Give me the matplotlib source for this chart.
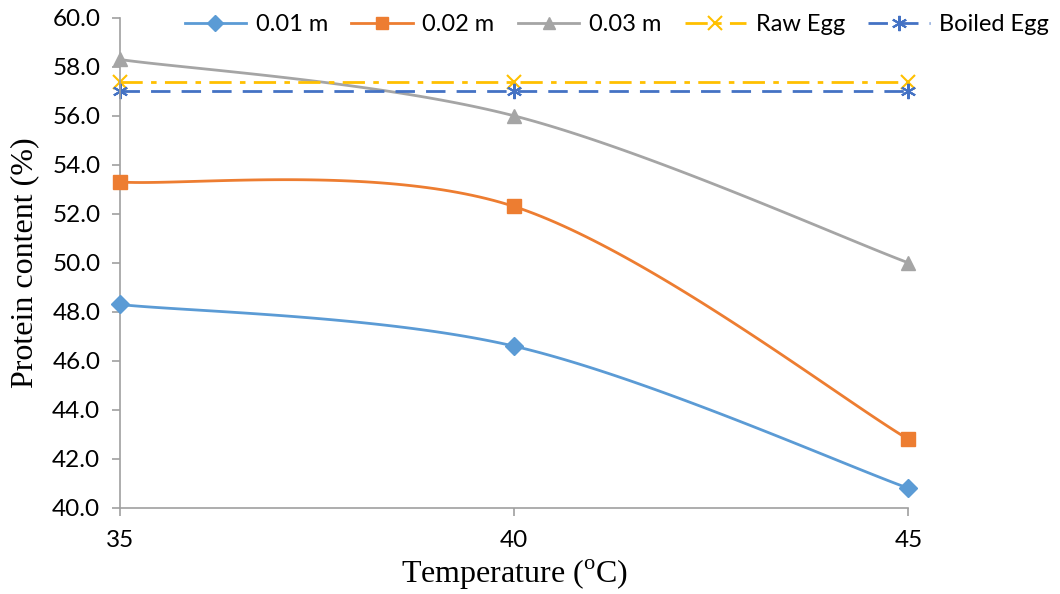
import numpy as np
import matplotlib
matplotlib.use("Agg")
import matplotlib.pyplot as plt

temps = [35, 40, 45]
p001 = [48.3, 46.6, 40.8]
p002 = [53.3, 52.3, 42.8]
p003 = [58.3, 56.0, 50.0]
raw_egg = [57.4, 57.4, 57.4]
boiled_egg = [57.0, 57.0, 57.0]


# Excel style smoothed line: cubic bezier between points, tension 1/6
def smooth(xs, ys, n=60):
    P = np.column_stack([xs, ys]).astype(float)
    P = np.vstack([P[0], P, P[-1]])
    out = []
    t = np.linspace(0, 1, n)[:, None]
    for i in range(1, len(P) - 2):
        p0, p1, p2, p3 = P[i - 1], P[i], P[i + 1], P[i + 2]
        c1 = p1 + (p2 - p0) / 6.0
        c2 = p2 - (p3 - p1) / 6.0
        seg = ((1 - t) ** 3) * p1 + 3 * ((1 - t) ** 2) * t * c1 + 3 * (1 - t) * t ** 2 * c2 + t ** 3 * p2
        out.append(seg)
    seg = np.vstack(out)
    return seg[:, 0], seg[:, 1]


tick_font = "Lato"
serif = "Liberation Serif"
plt.rcParams["mathtext.fontset"] = "custom"
plt.rcParams["mathtext.rm"] = serif

fig = plt.figure(figsize=(10.6, 5.94), dpi=100)
ax = fig.add_axes([0.113, 0.145, 0.744, 0.825])

series = [
    (p001, "#5B9BD5", "D", 9, "0.01 m"),
    (p002, "#ED7D31", "s", 10, "0.02 m"),
    (p003, "#A5A5A5", "^", 10, "0.03 m"),
]
handles = []
for vals, col, mk, ms, lab in series:
    sx, sy = smooth(temps, vals)
    ax.plot(sx, sy, color=col, lw=2, clip_on=False)
    ax.plot(temps, vals, color=col, marker=mk, ms=ms, linestyle="None", clip_on=False, zorder=4)
    handles.append(ax.plot([], [], color=col, lw=2, marker=mk, ms=ms - 1, label=lab)[0])

h1, = ax.plot(temps, raw_egg, color="#FFC000", lw=2, linestyle=(0, (8, 3, 2, 3)),
              marker="x", ms=10, mew=1.5, label="Raw Egg", clip_on=False)
h2, = ax.plot(temps, boiled_egg, color="#4472C4", lw=2, linestyle=(0, (7, 4)),
              marker=(6, 2, 0), ms=11, mew=1.5, label="Boiled Egg", clip_on=False)
handles += [h1, h2]

ax.set_xlim(35, 45)
ax.set_ylim(40, 60)
ax.set_xticks([35, 40, 45])
ax.set_yticks(np.arange(40, 60.1, 2))
ax.set_yticklabels([f"{v:.1f}" for v in np.arange(40, 60.1, 2)])

for s in ["top", "right"]:
    ax.spines[s].set_visible(False)
for s in ["left", "bottom"]:
    ax.spines[s].set_color("#A0A0A0")
    ax.spines[s].set_linewidth(1.2)
ax.tick_params(axis="both", colors="#A0A0A0", length=6, width=1.2, direction="out",
               labelcolor="black", labelsize=17.5)
ax.tick_params(axis="x", pad=10)
ax.tick_params(axis="y", pad=8)
for lbl in ax.get_xticklabels() + ax.get_yticklabels():
    lbl.set_family(tick_font)

ax.set_xlabel("Temperature ($^{\\mathrm{o}}$C)", fontsize=23, family=serif, labelpad=5)
ax.set_ylabel("Protein content (%)", fontsize=23, family=serif, labelpad=9)

leg = fig.legend(handles=handles, loc="center", bbox_to_anchor=(0.582, 0.958), ncol=5,
                 frameon=False, prop={"family": tick_font, "size": 17},
                 handlelength=2.6, columnspacing=1.0, handletextpad=0.4)

fig.savefig("out.png", dpi=100)
